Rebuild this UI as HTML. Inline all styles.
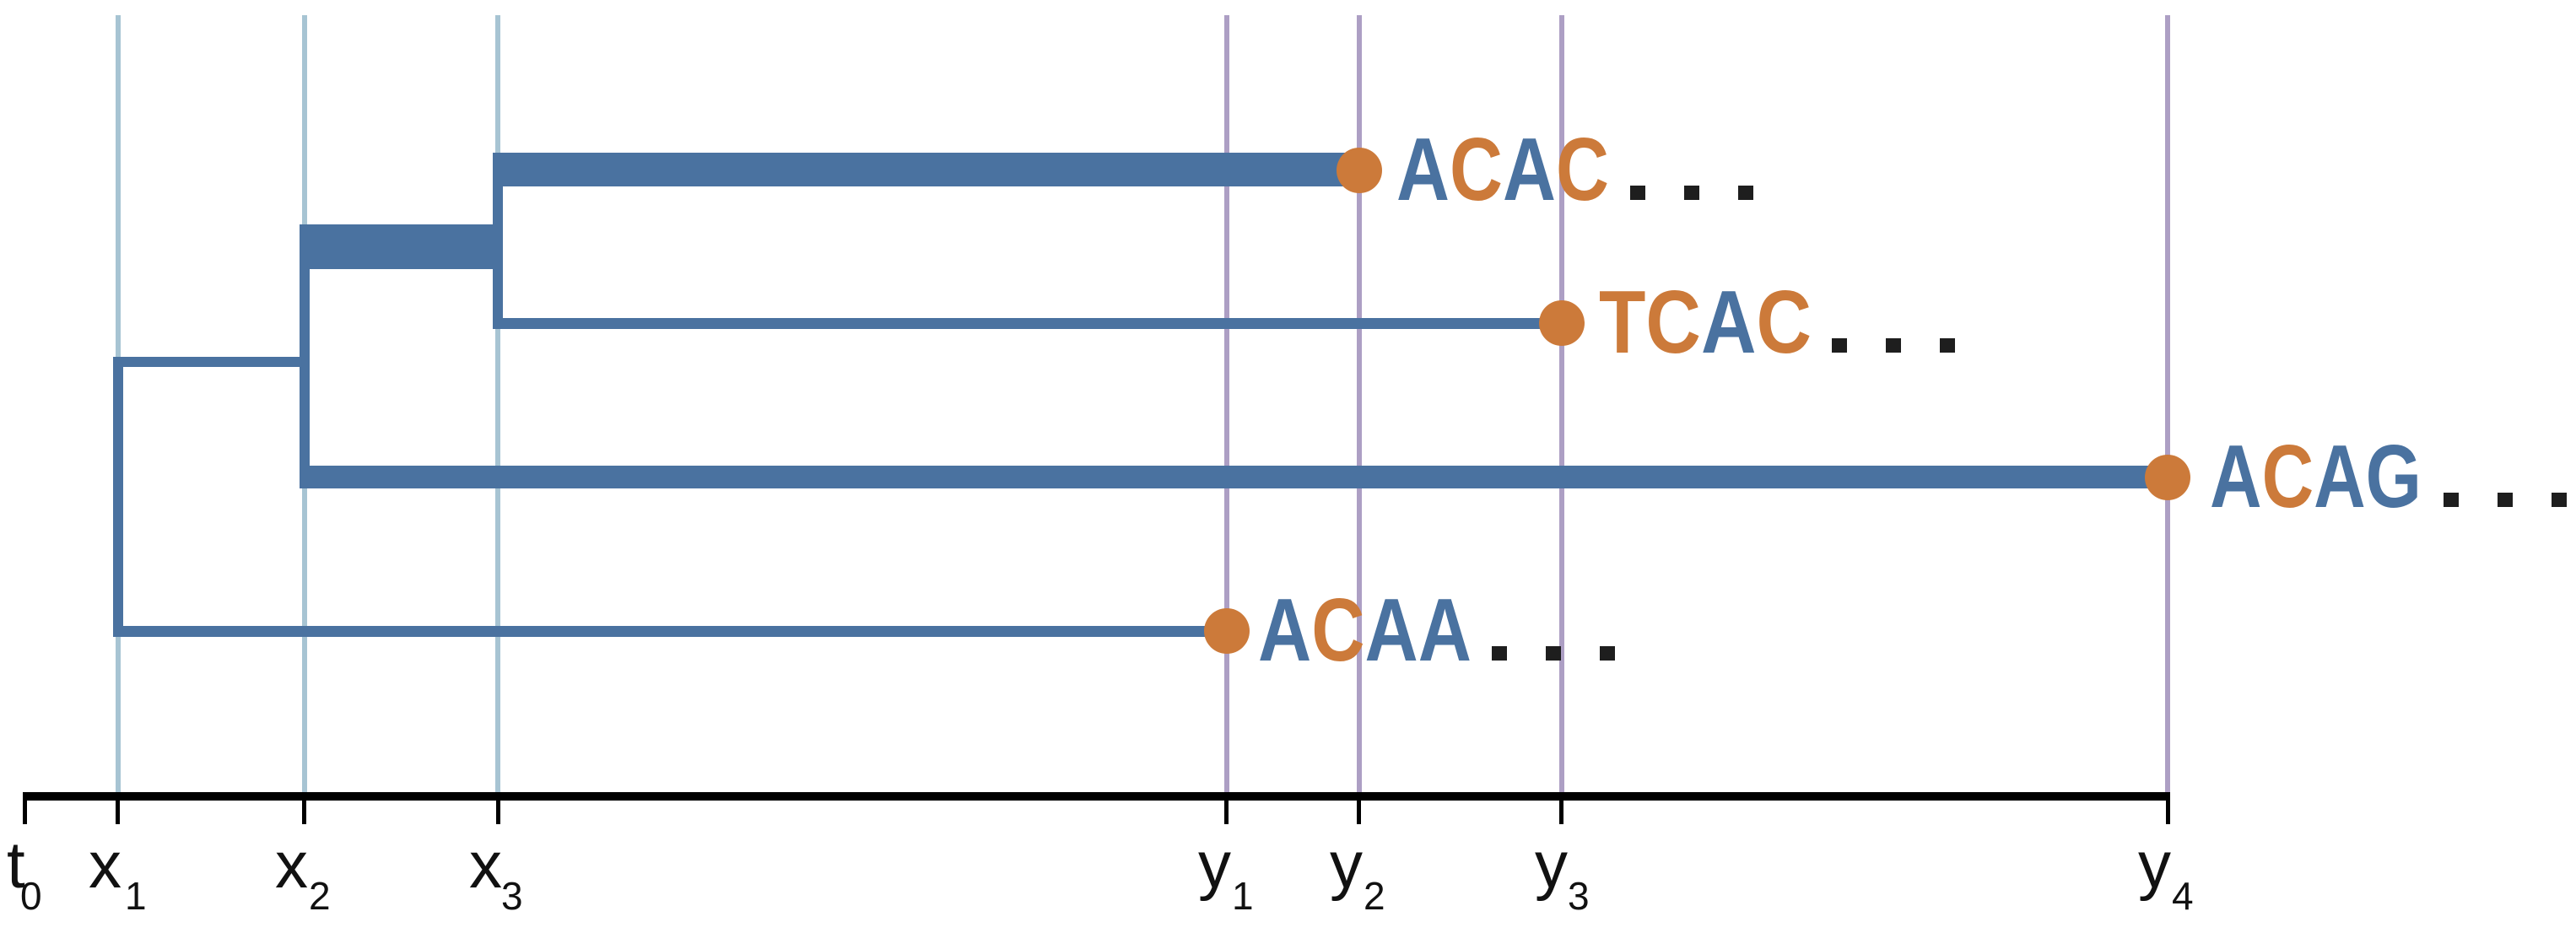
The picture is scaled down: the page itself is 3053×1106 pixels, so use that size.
<!DOCTYPE html>
<html><head><meta charset="utf-8"><style>html,body{margin:0;padding:0;background:#fff}svg{display:block}</style></head>
<body>
<svg width="3053" height="1106" viewBox="0 0 3053 1106" xmlns="http://www.w3.org/2000/svg">
<g stroke-width="6">
<line x1="140" y1="18" x2="140" y2="942" stroke="#a7c4d3"/>
<line x1="361" y1="18" x2="361" y2="942" stroke="#a7c4d3"/>
<line x1="590" y1="18" x2="590" y2="942" stroke="#a7c4d3"/>
<line x1="1454" y1="18" x2="1454" y2="942" stroke="#ad9fc4"/>
<line x1="1611" y1="18" x2="1611" y2="942" stroke="#ad9fc4"/>
<line x1="1851" y1="18" x2="1851" y2="942" stroke="#ad9fc4"/>
<line x1="2569" y1="18" x2="2569" y2="942" stroke="#ad9fc4"/>
</g>
<g fill="#4a72a0">
<rect x="134" y="424" width="12" height="331"/>
<rect x="134" y="423" width="227" height="12"/>
<rect x="134" y="742" width="1320" height="13"/>
<rect x="355" y="266" width="12" height="313"/>
<rect x="355" y="266" width="235" height="53"/>
<rect x="355" y="552" width="2214" height="27"/>
<rect x="584" y="181" width="12" height="209"/>
<rect x="584" y="181" width="1027" height="40"/>
<rect x="584" y="377" width="1267" height="13"/>
</g>
<g fill="#cc7a3a">
<circle cx="1611" cy="202" r="27"/>
<circle cx="1851" cy="383" r="27"/>
<circle cx="2569" cy="566" r="27"/>
<circle cx="1454" cy="748" r="27"/>
</g>
<g font-family="Liberation Sans, sans-serif" font-weight="bold" font-size="106" fill="#4a72a0">
<text x="1655" y="237" textLength="252" lengthAdjust="spacingAndGlyphs">A<tspan fill="#cc7a3a">C</tspan>A<tspan fill="#cc7a3a">C</tspan></text>
<text x="1895" y="418" textLength="252" lengthAdjust="spacingAndGlyphs"><tspan fill="#cc7a3a">TC</tspan>A<tspan fill="#cc7a3a">C</tspan></text>
<text x="2619" y="601" textLength="251" lengthAdjust="spacingAndGlyphs">A<tspan fill="#cc7a3a">C</tspan>AG</text>
<text x="1491" y="783" textLength="253" lengthAdjust="spacingAndGlyphs">A<tspan fill="#cc7a3a">C</tspan>AA</text>
</g>
<g fill="#1e1e1e">
<rect x="1932" y="220" width="18" height="17"/><rect x="1996" y="220" width="18" height="17"/><rect x="2060" y="220" width="18" height="17"/>
<rect x="2171" y="401" width="18" height="17"/><rect x="2235" y="401" width="18" height="17"/><rect x="2299" y="401" width="18" height="17"/>
<rect x="2896" y="584" width="18" height="17"/><rect x="2960" y="584" width="18" height="17"/><rect x="3024" y="584" width="18" height="17"/>
<rect x="1768" y="766" width="18" height="17"/><rect x="1832" y="766" width="18" height="17"/><rect x="1896" y="766" width="18" height="17"/>
</g>
<g fill="#000">
<rect x="27" y="939" width="2545" height="10"/>
<rect x="27" y="939" width="5" height="38"/>
<rect x="137" y="939" width="5" height="38"/>
<rect x="358" y="939" width="5" height="38"/>
<rect x="588" y="939" width="5" height="38"/>
<rect x="1451" y="939" width="5" height="38"/>
<rect x="1608" y="939" width="5" height="38"/>
<rect x="1848" y="939" width="5" height="38"/>
<rect x="2567" y="939" width="5" height="38"/>
</g>
<g font-family="Liberation Sans, sans-serif" fill="#111">
<g font-size="78">
<text x="8" y="1052">t</text>
<text x="105" y="1052">x</text>
<text x="326" y="1052">x</text>
<text x="556" y="1052">x</text>
<text x="1420" y="1052">y</text>
<text x="1576" y="1052">y</text>
<text x="1819" y="1052">y</text>
<text x="2534" y="1052">y</text>
</g>
<g font-size="46">
<text x="24" y="1078">0</text>
<text x="148" y="1078">1</text>
<text x="366" y="1078">2</text>
<text x="594" y="1078">3</text>
<text x="1460" y="1078">1</text>
<text x="1616" y="1078">2</text>
<text x="1858" y="1078">3</text>
<text x="2574" y="1078">4</text>
</g>
</g>
</svg>
</body></html>
